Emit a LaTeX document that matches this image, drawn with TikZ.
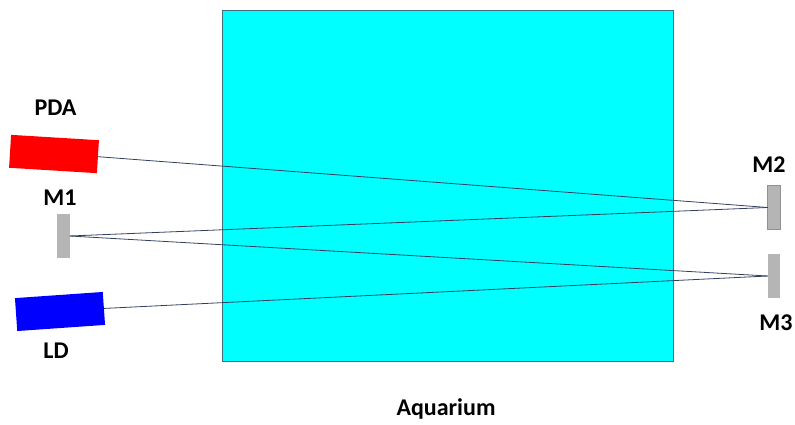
\documentclass[tikz,border=0pt]{standalone}
\usepackage{xcolor}
\usepackage{fontspec}
\setmainfont{Carlito}
\usepackage{tikz}
\usetikzlibrary{
  arrows.meta,
  positioning
}
\definecolor{isTank}{HTML}{00FFFF}
\definecolor{isEdge}{HTML}{3F6F7F}
\definecolor{isBeam}{HTML}{33415F}
\definecolor{isMirror}{HTML}{B5B5B5}
\tikzset{
  isnode/.style={
    inner sep=0pt, outer sep=0pt, minimum height=33pt, minimum width=88pt
  },
  tank/.style={draw=isEdge, fill=isTank, line width=0.8pt, inner sep=0pt, outer sep=0pt,
    minimum width=451pt, minimum height=351pt},
  detector/.style={isnode, fill=red},
  laser/.style={isnode, fill=blue},
  mirror/.style={isnode, fill=isMirror, minimum width=12.5pt, minimum height=44.5pt},
  beam/.style={isBeam, line width=0.8pt},
  tag/.style={font=\fontsize{24}{24}\selectfont\bfseries, inner sep=0pt}
}
\begin{document}
\begin{tikzpicture}[x=1pt, y=-1pt]
  \useasboundingbox (0,0) rectangle (795,425);
  \node[tank] (tank) at (447.5,185.5) {};
  \node[detector, rotate=-3.5] (pda) at (54,154) {};
  \node[laser, rotate=4] (ld) at (60,311.5) {};
  \node[mirror] (m1) at (63.5,236) {};
  \node[mirror, draw=isMirror!80!black, line width=0.7pt] (m2) at (774,207.5) {};
  \node[mirror] (m3) at (774,276) {};
  \foreach \a/\b in {pda/m2, m1/m2, m1/m3, ld/m3}{
    \draw[beam] (\a.east) -- (\b.west);
  }
  \node[tag] (pdalbl) at (55.5,107.5) {PDA};
  \node[tag] (m1lbl) at (60,197.5) {M1};
  \node[tag] (m2lbl) at (769,164.5) {M2};
  \node[tag] (m3lbl) at (776,322.5) {M3};
  \node[tag] (ldlbl) at (56,350.5) {LD};
  \node[tag] (tanklbl) at (446,408.5) {Aquarium};
\end{tikzpicture}
\end{document}
